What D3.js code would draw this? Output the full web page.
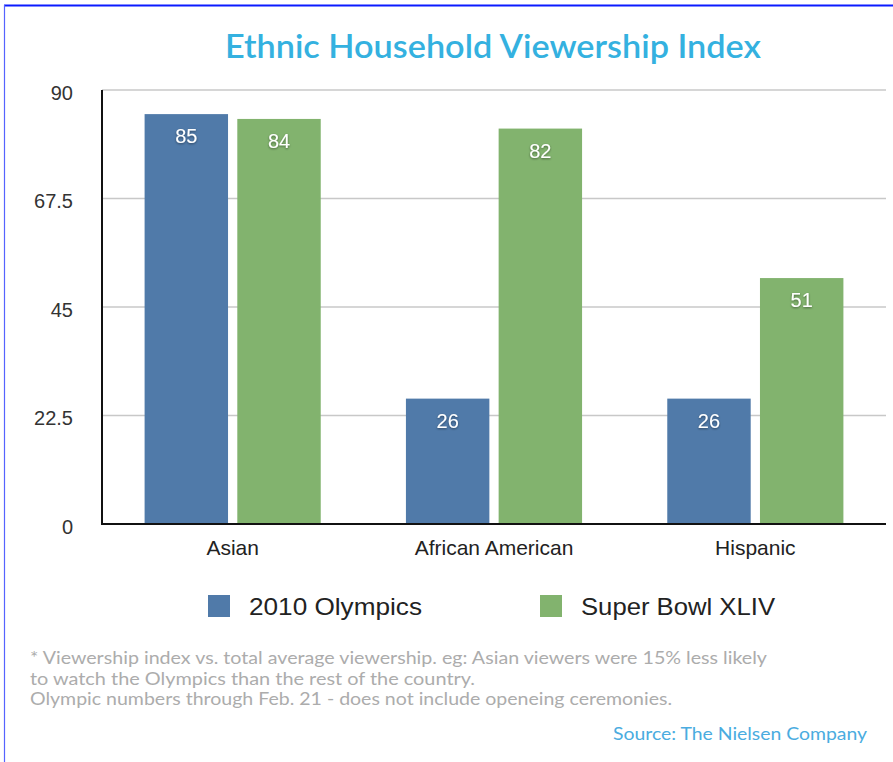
<!DOCTYPE html>
<html>
<head>
<meta charset="utf-8">
<script src="https://cdnjs.cloudflare.com/ajax/libs/d3/7.8.5/d3.min.js"></script>
<style>
  body { margin: 0; background: #fff; }
  svg { display: block; }
</style>
</head>
<body>
<script>
// data
var categories = ["Asian", "African American", "Hispanic"];
var seriesNames = ["2010 Olympics", "Super Bowl XLIV"];
var olympics = [85, 26, 26];
var superBowl = [84, 82, 51];
var yTicks = [0, 22.5, 45, 67.5, 90];
var footnote = [
  "* Viewership index vs. total average viewership. eg: Asian viewers were 15% less likely",
  "to watch the Olympics than the rest of the country.",
  "Olympic numbers through Feb. 21 - does not include openeing ceremonies."
];
var colors = ["#507aa9", "#82b36e"];

var width = 893, height = 762;
var margin = { top: 90, right: 7, bottom: 238, left: 102 };
var plotW = width - margin.left - margin.right;
var plotH = height - margin.top - margin.bottom;

var svg = d3.select("body").append("svg")
  .attr("width", width).attr("height", height);

var defs = svg.append("defs");
var f = defs.append("filter").attr("id", "shadow")
  .attr("x", "-30%").attr("y", "-30%").attr("width", "160%").attr("height", "160%");
f.append("feDropShadow").attr("dx", 0).attr("dy", 1).attr("stdDeviation", 1.2)
  .attr("flood-color", "#000").attr("flood-opacity", 0.45);

// frame
svg.append("line").attr("x1", 4).attr("x2", width).attr("y1", 5.5).attr("y2", 5.5)
  .attr("stroke", "#0b1bff").attr("stroke-width", 2);
svg.append("line").attr("x1", 4.5).attr("x2", 4.5).attr("y1", 5).attr("y2", height)
  .attr("stroke", "#5563ff").attr("stroke-width", 1.2);

// title
svg.append("text")
  .attr("x", 225).attr("y", 58)
  .attr("textLength", 536).attr("lengthAdjust", "spacingAndGlyphs")
  .style("font-family", "Lato, 'Open Sans', sans-serif")
  .style("font-size", "32px").style("font-weight", 600)
  .style("fill", "#34b1e0")
  .text("Ethnic Household Viewership Index");

var g = svg.append("g").attr("transform", "translate(" + margin.left + "," + margin.top + ")");

var y = d3.scaleLinear().domain([0, 90]).range([plotH, 0]);
var x0 = d3.scaleBand().domain(categories).range([0, plotW])
  .paddingInner(0.326).paddingOuter(0.163);
var x1 = d3.scaleBand().domain(seriesNames).range([0, x0.bandwidth()]).paddingInner(0.1);

// gridlines
g.append("g").selectAll("line").data(yTicks.filter(function (d) { return d > 0; }))
  .join("line")
  .attr("x1", 0).attr("x2", plotW)
  .attr("y1", function (d) { return y(d); }).attr("y2", function (d) { return y(d); })
  .attr("stroke", "#c8c8c8").attr("stroke-width", 1.5);

// y axis labels
var yAxis = d3.axisLeft(y).tickValues(yTicks).tickSize(0).tickPadding(29)
  .tickFormat(function (d) { return String(d); });
var ya = g.append("g").call(yAxis);
ya.select(".domain").remove();
ya.selectAll("text")
  .attr("dy", "0.45em")
  .style("font-family", "'Liberation Sans', Arial, sans-serif")
  .style("font-size", "20px").style("fill", "#333");

// bars
var rows = categories.map(function (c, i) {
  return { cat: c, values: [
    { key: seriesNames[0], value: olympics[i], color: colors[0] },
    { key: seriesNames[1], value: superBowl[i], color: colors[1] }
  ] };
});

var groups = g.append("g").selectAll("g").data(rows).join("g")
  .attr("transform", function (d) { return "translate(" + x0(d.cat) + ",0)"; });

groups.selectAll("rect").data(function (d) { return d.values; }).join("rect")
  .attr("x", function (d) { return x1(d.key); })
  .attr("y", function (d) { return y(d.value); })
  .attr("width", x1.bandwidth())
  .attr("height", function (d) { return plotH - y(d.value); })
  .attr("fill", function (d) { return d.color; });

groups.selectAll("text.val").data(function (d) { return d.values; }).join("text")
  .attr("class", "val")
  .attr("x", function (d) { return x1(d.key) + x1.bandwidth() / 2; })
  .attr("y", function (d) { return y(d.value) + 29; })
  .attr("text-anchor", "middle")
  .attr("filter", "url(#shadow)")
  .style("font-family", "'Liberation Sans', Arial, sans-serif")
  .style("font-size", "20px").style("fill", "#fff")
  .text(function (d) { return d.value; });

// axes lines
g.append("line").attr("x1", 0).attr("x2", 0).attr("y1", 0).attr("y2", plotH)
  .attr("stroke", "#111").attr("stroke-width", 2);
g.append("line").attr("x1", -1).attr("x2", plotW).attr("y1", plotH).attr("y2", plotH)
  .attr("stroke", "#111").attr("stroke-width", 2);

// x axis labels
var xAxis = d3.axisBottom(x0).tickSize(0).tickPadding(16);
var xa = g.append("g").attr("transform", "translate(0," + plotH + ")").call(xAxis);
xa.select(".domain").remove();
xa.selectAll("text")
  .style("font-family", "'Liberation Sans', Arial, sans-serif")
  .style("font-size", "21px").style("fill", "#222");

// legend
var legendX = [208, 540];
var legendLen = [173, 194];
var legend = svg.append("g").selectAll("g").data(seriesNames).join("g")
  .attr("transform", function (d, i) { return "translate(" + legendX[i] + ",595)"; });
legend.append("rect").attr("width", 22).attr("height", 22)
  .attr("fill", function (d, i) { return colors[i]; });
legend.append("text").attr("x", 41).attr("y", 20)
  .attr("textLength", function (d, i) { return legendLen[i]; })
  .attr("lengthAdjust", "spacingAndGlyphs")
  .style("font-family", "'Liberation Sans', Arial, sans-serif")
  .style("font-size", "24px").style("fill", "#222")
  .text(function (d) { return d; });

// footnote
var fnLen = [737, 445, 642];
svg.append("g").selectAll("text").data(footnote).join("text")
  .attr("x", 30)
  .attr("y", function (d, i) { return 664 + i * 20.5; })
  .attr("textLength", function (d, i) { return fnLen[i]; })
  .attr("lengthAdjust", "spacingAndGlyphs")
  .style("font-family", "Lato, 'Open Sans', sans-serif")
  .style("font-size", "17px").style("fill", "#acacac")
  .text(function (d) { return d; });

// source
svg.append("text")
  .attr("x", 613).attr("y", 740)
  .attr("textLength", 254).attr("lengthAdjust", "spacingAndGlyphs")
  .style("font-family", "Lato, 'Open Sans', sans-serif")
  .style("font-size", "18px").style("fill", "#4aace0")
  .text("Source: The Nielsen Company");
</script>
</body>
</html>
